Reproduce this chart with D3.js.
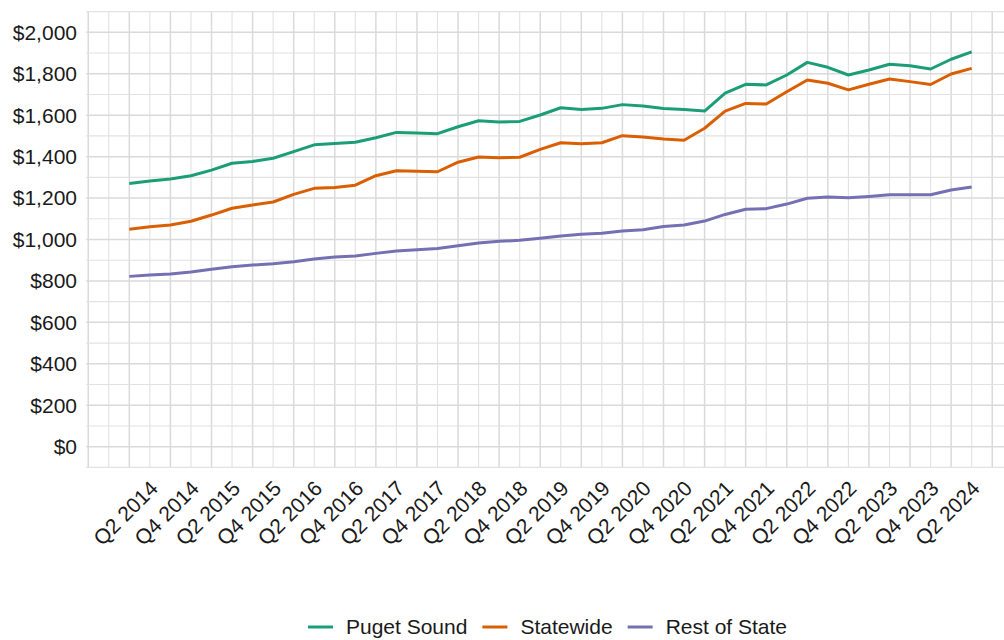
<!DOCTYPE html>
<html>
<head>
<meta charset="utf-8">
<script src="https://cdn.jsdelivr.net/npm/d3@7"></script>
<style>
  body { margin: 0; background: #fff; }
  svg { display: block; font-family: "Liberation Sans", Arial, sans-serif; }
</style>
</head>
<body>
<svg id="chart" width="1004" height="640"></svg>
<script>
var quarters = [
    "Q2 2014", "Q3 2014", "Q4 2014", "Q1 2015", "Q2 2015", "Q3 2015", "Q4 2015",
    "Q1 2016", "Q2 2016", "Q3 2016", "Q4 2016", "Q1 2017", "Q2 2017", "Q3 2017",
    "Q4 2017", "Q1 2018", "Q2 2018", "Q3 2018", "Q4 2018", "Q1 2019", "Q2 2019",
    "Q3 2019", "Q4 2019", "Q1 2020", "Q2 2020", "Q3 2020", "Q4 2020", "Q1 2021",
    "Q2 2021", "Q3 2021", "Q4 2021", "Q1 2022", "Q2 2022", "Q3 2022", "Q4 2022",
    "Q1 2023", "Q2 2023", "Q3 2023", "Q4 2023", "Q1 2024", "Q2 2024", "Q3 2024"
];

// labelled quarters (every other one)
var tickLabels = [
    "Q2 2014", "Q4 2014", "Q2 2015", "Q4 2015", "Q2 2016", "Q4 2016", "Q2 2017",
    "Q4 2017", "Q2 2018", "Q4 2018", "Q2 2019", "Q4 2019", "Q2 2020", "Q4 2020",
    "Q2 2021", "Q4 2021", "Q2 2022", "Q4 2022", "Q2 2023", "Q4 2023", "Q2 2024"
];

var pugetSound = [
    1270, 1282, 1292, 1308, 1335, 1368, 1377, 1392, 1424, 1457, 1463,
    1469, 1491, 1517, 1514, 1511, 1544, 1573, 1567, 1570, 1601, 1636,
    1628, 1633, 1651, 1644, 1632, 1627, 1620, 1706, 1749, 1746, 1794,
    1855, 1831, 1794, 1818, 1846, 1839, 1823, 1870, 1906
];

var statewide = [
    1050, 1062, 1070, 1088, 1118, 1151, 1167, 1181, 1218, 1247, 1251,
    1262, 1308, 1332, 1329, 1327, 1373, 1398, 1395, 1397, 1435, 1467,
    1462, 1467, 1501, 1495, 1485, 1479, 1537, 1620, 1657, 1654, 1713,
    1770, 1754, 1722, 1749, 1775, 1762, 1748, 1799, 1826
];

var restOfState = [
    822, 829, 834, 843, 856, 869, 877, 883, 893, 906, 915,
    920, 933, 944, 951, 957, 970, 983, 991, 996, 1006, 1017,
    1025, 1030, 1041, 1047, 1063, 1070, 1089, 1121, 1146, 1149, 1171,
    1199, 1205, 1202, 1208, 1216, 1216, 1216, 1239, 1253
];

var seriesNames = ["Puget Sound", "Statewide", "Rest of State"];
var seriesColors = ["#1b9e77", "#d95f02", "#7570b3"];
var seriesValues = [pugetSound, statewide, restOfState];

var yTicks = [0, 200, 400, 600, 800, 1000, 1200, 1400, 1600, 1800, 2000];

var svg = d3.select("#chart");
var panel = {left: 87.2, right: 1013.8, top: 11.6, bottom: 467.4};
var fontSize = 21;

var n = quarters.length - 1;
var pad = 0.05 * n;
var x = d3.scaleLinear()
    .domain([-pad, n + pad])
    .range([panel.left, panel.right]);

var y = d3.scaleLinear()
    .domain([-100, 2100])
    .range([panel.bottom, panel.top]);

var grid = svg.append("g");

// vertical grid: major on labelled quarters, minor between
d3.range(-2, n + 3).forEach(function(i) {
    var major = (i % 2 === 0);
    grid.append("line")
        .attr("x1", x(i)).attr("x2", x(i))
        .attr("y1", panel.top).attr("y2", panel.bottom)
        .attr("stroke", major ? "#dadada" : "#e2e2e2")
        .attr("stroke-width", major ? 1.5 : 1.1);
});

// horizontal grid
d3.range(-100, 2101, 100).forEach(function(v) {
    var major = (v % 200 === 0);
    grid.append("line")
        .attr("x1", panel.left - 1).attr("x2", panel.right)
        .attr("y1", y(v)).attr("y2", y(v))
        .attr("stroke", major ? "#dadada" : "#e2e2e2")
        .attr("stroke-width", major ? 1.5 : 1.1);
});

// y axis labels
svg.append("g").selectAll("text")
    .data(yTicks)
    .join("text")
    .attr("x", 77)
    .attr("y", function(d) { return y(d); })
    .attr("dy", "0.35em")
    .attr("text-anchor", "end")
    .attr("font-size", fontSize)
    .attr("fill", "#1a1a1a")
    .text(function(d) { return "$" + d3.format(",")(d); });

// x axis labels
svg.append("g").selectAll("text")
    .data(tickLabels)
    .join("text")
    .attr("transform", function(d) {
        var i = quarters.indexOf(d);
        return "translate(" + (x(i) - 3.8) + ",513) rotate(-45)";
    })
    .attr("dy", "0.35em")
    .attr("text-anchor", "middle")
    .attr("font-size", fontSize)
    .attr("fill", "#1a1a1a")
    .text(function(d) { return d; });

var line = d3.line()
    .x(function(d, i) { return x(i); })
    .y(function(d) { return y(d); });

svg.append("g").selectAll("path")
    .data(seriesValues)
    .join("path")
    .attr("fill", "none")
    .attr("stroke", function(d, i) { return seriesColors[i]; })
    .attr("stroke-width", 3)
    .attr("stroke-linejoin", "round")
    .attr("d", line);

// legend, centred under the chart
var legend = svg.append("g");
var keyW = 25, keyGap = 13, itemGap = 15, legendY = 627;
var items = seriesNames.map(function(name, i) {
    var g = legend.append("g");
    g.append("line")
        .attr("x1", 0).attr("x2", keyW)
        .attr("y1", legendY).attr("y2", legendY)
        .attr("stroke", seriesColors[i])
        .attr("stroke-width", 3);
    var t = g.append("text")
        .attr("x", keyW + keyGap)
        .attr("y", legendY)
        .attr("dy", "0.35em")
        .attr("font-size", fontSize)
        .attr("fill", "#1a1a1a")
        .text(name);
    return {g: g, w: keyW + keyGap + t.node().getComputedTextLength()};
});
var total = d3.sum(items, function(d) { return d.w; }) + itemGap * (items.length - 1);
var cx = 547.5 - total / 2;
items.forEach(function(it) {
    it.g.attr("transform", "translate(" + cx + ",0)");
    cx += it.w + itemGap;
});
</script>
</body>
</html>
